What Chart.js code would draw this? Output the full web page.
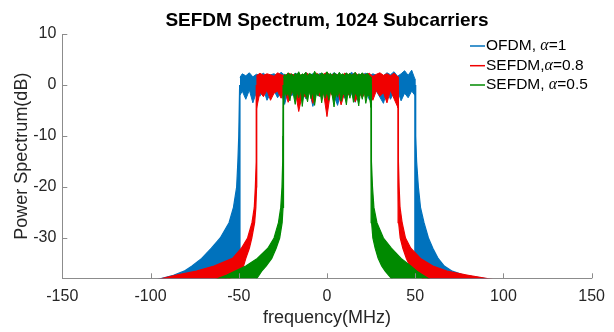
<!DOCTYPE html>
<html>
<head>
<meta charset="utf-8">
<script src="https://cdn.jsdelivr.net/npm/chart.js@4.4.1/dist/chart.umd.min.js"></script>
<style>
  html, body { margin: 0; padding: 0; background: #fff; }
  #wrap { width: 614px; height: 332px; }
</style>
</head>
<body>
<div id="wrap"><canvas id="spec" width="614" height="332"></canvas></div>
<script>
// axis ticks
const xTicks = [-150, -100, -50, 0, 50, 100, 150];
const yTicks = [10, 0, -10, -20, -30];
const xMin = -150, xMax = 150, yMin = -37.9, yMax = 10;

// legend / series
const seriesNames = ['OFDM, ', 'SEFDM,', 'SEFDM, '];
const seriesAlpha = ['1', '0.8', '0.5'];
const seriesColors = ['#0072bd', '#f00000', '#008a00'];

// skirts: dB levels, and the frequency (MHz) of each band edge at that level
const skirtLevels = [0, -10, -15, -20, -24, -27, -30, -32, -34, -35.5, -36.5, -37.3, -38.5];

const ofdmLeftOuter  = [-49.5, -50, -50.5, -51.2, -53, -55.5, -60.5, -65.5, -71, -76.5, -81, -87, -100];
const ofdmLeftInner  = [-49.3, -49.3, -49.3, -49.3, -49.3, -49.3, -49.3, -49.3, -49.3, -49.3, -50, -54, -60];
const ofdmRightInner = [49.8, 49.8, 49.8, 49.8, 49.8, 49.8, 49.8, 49.8, 49.8, 50, 52, 55, 60];
const ofdmRightOuter = [50, 50.3, 50.8, 51.8, 53, 55, 57.5, 60, 63, 66.5, 71, 78, 100];

const sefdm8LeftOuter  = [-40, -40, -40.2, -40.6, -41.2, -42.5, -45, -48.5, -53.5, -64, -74, -86, -100];
const sefdm8LeftInner  = [-39.8, -39.8, -39.8, -39.9, -40.3, -41, -42.6, -44, -46, -47.3, -49, -52, -58];
const sefdm8RightInner = [40.2, 40.2, 40.2, 40.2, 40.3, 40.6, 41.5, 43, 45, 47, 49, 52, 56];
const sefdm8RightOuter = [40.4, 40.4, 40.6, 40.9, 41.4, 42.6, 44.5, 47.5, 53, 60, 68, 80, 100];

const sefdm5LeftOuter  = [-24.9, -25, -25.1, -25.5, -26.2, -27.5, -30, -33.5, -39.5, -46, -52, -57, -66];
const sefdm5LeftInner  = [-24.7, -24.6, -24.6, -24.6, -24.9, -25.4, -26.8, -28.8, -31.3, -34.5, -37, -38.5, -41];
const sefdm5RightInner = [24.9, 24.9, 24.9, 25, 25, 25.3, 26, 27.3, 29, 31, 33, 35, 38];
const sefdm5RightOuter = [25.1, 25.1, 25.3, 25.8, 26.6, 28.3, 32, 36.5, 42, 47.5, 51, 54.5, 60];

// in-band ripple: frequency, upper and lower excursion (dB)
const ofdmBandFreq = [-49.3, -48, -46, -44, -42, -40, -38, -36, -34, -32, -30, -28, -26, -24, -22, -20, -18, -16, -14, -12, -10, -8, -6, -4, -2, 0,
  2, 4, 6, 8, 10, 12, 14, 16, 18, 20, 22, 24, 26, 28, 30, 32, 34, 36, 38, 40, 42, 44, 46, 48, 49.8];
const ofdmBandTop = [1.5, 2.2, 1.8, 2.4, 1.6, 2.1, 1.9, 2.3, 1.7, 2.0, 2.2, 1.8, 2.5, 1.9, 2.1, 1.7, 2.3, 2.0, 1.8, 2.4, 1.9, 2.2, 1.6, 2.3, 2.0, 2.1,
  1.8, 2.4, 2.0, 1.7, 2.2, 1.9, 2.5, 1.8, 2.1, 2.0, 2.3, 1.7, 2.2, 1.9, 2.1, 1.8, 2.4, 2.0, 2.6, 1.7, 2.2, 2.8, 1.9, 2.9, 1.2];
const ofdmBandBot = [-2.0, -1.2, -2.8, -1.0, -3.5, -1.4, -2.2, -0.8, -3.0, -1.6, -1.1, -2.5, -1.3, -3.8, -1.0, -2.1, -1.5, -3.2, -1.2, -2.7, -1.0, -4.2, -1.6, -2.3, -1.1, -3.0,
  -1.4, -2.0, -4.0, -1.2, -2.6, -1.0, -1.8, -3.4, -1.3, -2.2, -1.0, -2.9, -1.5, -1.2, -2.4, -3.6, -1.1, -2.8, -1.4, -1.0, -3.1, -1.6, -2.5, -1.2, -2.0];

const sefdm8BandFreq = [-40, -38, -36, -34, -32, -30, -28, -26, -24, -22, -20, -18, -16, -14, -12, -10, -8, -6, -4, -2, 0,
  2, 4, 6, 8, 10, 12, 14, 16, 18, 20, 22, 24, 26, 28, 30, 32, 34, 36, 38, 40.3];
const sefdm8BandTop = [1.8, 2.3, 1.9, 2.2, 2.0, 1.7, 2.4, 2.0, 1.8, 2.3, 2.1, 1.9, 2.2, 1.7, 2.4, 2.0, 1.8, 2.3, 1.9, 2.1, 2.5,
  1.8, 2.2, 2.0, 1.7, 2.3, 2.1, 1.9, 2.4, 1.8, 2.2, 2.0, 2.3, 1.7, 2.1, 2.4, 1.9, 2.2, 1.8, 2.3, 1.6];
const sefdm8BandBot = [-4.8, -1.4, -2.3, -1.0, -3.0, -1.6, -1.2, -2.6, -1.0, -3.4, -1.5, -1.1, -5.2, -1.8, -2.4, -1.2, -3.6, -1.0, -2.2, -1.4, -6.2,
  -1.3, -2.8, -1.1, -3.9, -1.5, -2.0, -1.0, -3.3, -1.4, -2.5, -1.2, -1.8, -3.0, -1.1, -2.2, -1.5, -3.5, -1.0, -2.7, -4.5];

const sefdm5BandFreq = [-24.7, -24, -23, -22, -21, -20, -19, -18, -17, -16, -15, -14, -13, -12, -11, -10, -9, -8, -7, -6, -5, -4, -3, -2, -1, 0,
  1, 2, 3, 4, 5, 6, 7, 8, 9, 10, 11, 12, 13, 14, 15, 16, 17, 18, 19, 20, 21, 22, 23, 24, 25];
const sefdm5BandTop = [1.4, 2.1, 1.8, 2.4, 1.9, 2.2, 1.6, 2.3, 2.0, 2.6, 1.8, 2.2, 2.0, 2.5, 1.7, 2.3, 2.1, 1.9, 2.7, 2.0, 2.2, 1.8, 2.4, 2.1, 1.9, 2.6,
  2.0, 2.3, 1.7, 2.4, 2.1, 1.9, 2.5, 2.0, 2.2, 1.8, 2.4, 2.0, 2.3, 1.9, 2.1, 2.5, 1.8, 2.2, 2.0, 2.4, 1.9, 2.1, 2.3, 1.8, 1.5];
const sefdm5BandBot = [-4.5, -1.0, -2.2, -1.4, -3.1, -0.8, -1.9, -3.8, -1.2, -2.5, -1.0, -4.2, -1.5, -2.0, -3.3, -1.1, -2.7, -1.3, -4.0, -1.6, -2.2, -1.0, -3.5, -1.4, -2.6, -1.2,
  -3.0, -1.1, -2.1, -4.3, -1.5, -2.4, -1.0, -3.2, -1.7, -2.0, -3.9, -1.2, -2.6, -1.0, -3.4, -1.5, -2.2, -4.1, -1.3, -2.8, -1.0, -3.6, -1.9, -2.3, -4.4];

const FONT = "'Liberation Sans', Arial, sans-serif";
const AXIS_GREY = '#8c8c8c';

// outline of a skirt: outer edge top->bottom, then inner edge bottom->top
function skirtShape(outer, inner) {
  const pts = outer.map((f, i) => ({ x: f, y: skirtLevels[i] }));
  for (let i = inner.length - 1; i >= 0; i--) pts.push({ x: inner[i], y: skirtLevels[i] });
  return pts;
}

// outline of the in-band ripple: top left->right, bottom right->left
function bandShape(freq, top, bot) {
  const pts = freq.map((f, i) => ({ x: f, y: top[i] }));
  for (let i = freq.length - 1; i >= 0; i--) pts.push({ x: freq[i], y: bot[i] });
  return pts;
}

function shapeSet(points, color, width) {
  return {
    data: points,
    showLine: true,
    fill: 'shape',
    backgroundColor: color,
    borderColor: color,
    borderWidth: width,
    pointRadius: 0,
    tension: 0,
    clip: 0
  };
}

const series = [
  { color: seriesColors[2], band: [sefdm5BandFreq, sefdm5BandTop, sefdm5BandBot],
    skirts: [[sefdm5LeftOuter, sefdm5LeftInner], [sefdm5RightOuter, sefdm5RightInner]] },
  { color: seriesColors[1], band: [sefdm8BandFreq, sefdm8BandTop, sefdm8BandBot],
    skirts: [[sefdm8LeftOuter, sefdm8LeftInner], [sefdm8RightOuter, sefdm8RightInner]] },
  { color: seriesColors[0], band: [ofdmBandFreq, ofdmBandTop, ofdmBandBot],
    skirts: [[ofdmLeftOuter, ofdmLeftInner], [ofdmRightOuter, ofdmRightInner]] }
];

// first dataset is drawn on top, so green goes first
const datasets = [];
series.forEach(s => {
  datasets.push(shapeSet(bandShape(s.band[0], s.band[1], s.band[2]), s.color, 1));
  s.skirts.forEach(sk => datasets.push(shapeSet(skirtShape(sk[0], sk[1]), s.color, 1.2)));
});

const decorPlugin = {
  id: 'decor',
  afterDraw(chart) {
    const ctx = chart.ctx;
    const area = chart.chartArea;
    const xs = chart.scales.x, ys = chart.scales.y;
    ctx.save();

    // inward tick marks
    ctx.strokeStyle = AXIS_GREY;
    ctx.lineWidth = 1;
    ctx.beginPath();
    xTicks.forEach(v => {
      const px = Math.round(xs.getPixelForValue(v)) + 0.5;
      ctx.moveTo(px, area.bottom);
      ctx.lineTo(px, area.bottom - 5);
    });
    yTicks.forEach(v => {
      const py = Math.round(ys.getPixelForValue(v)) + 0.5;
      ctx.moveTo(area.left, py);
      ctx.lineTo(area.left + 5, py);
    });
    ctx.stroke();

    // title
    ctx.fillStyle = '#000';
    ctx.font = 'bold 19px ' + FONT;
    ctx.textAlign = 'center';
    ctx.textBaseline = 'alphabetic';
    ctx.fillText('SEFDM Spectrum, 1024 Subcarriers', (area.left + area.right) / 2, 26);

    // legend
    const lx = 470;
    const rowY = [46, 65.7, 85];
    ctx.textAlign = 'left';
    ctx.textBaseline = 'middle';
    seriesNames.forEach((name, i) => {
      ctx.strokeStyle = seriesColors[i];
      ctx.lineWidth = 1.5;
      ctx.beginPath();
      ctx.moveTo(lx, rowY[i]);
      ctx.lineTo(lx + 15, rowY[i]);
      ctx.stroke();
      let x = lx + 16;
      ctx.fillStyle = '#000';
      ctx.font = '15.5px ' + FONT;
      ctx.fillText(name, x, rowY[i]);
      x += ctx.measureText(name).width;
      ctx.font = 'italic 16px "Liberation Serif", serif';
      ctx.fillText('\u03b1', x, rowY[i]);
      x += ctx.measureText('\u03b1').width;
      ctx.font = '15.5px ' + FONT;
      ctx.fillText('=' + seriesAlpha[i], x, rowY[i]);
    });
    ctx.restore();
  }
};

new Chart(document.getElementById('spec'), {
  type: 'scatter',
  data: { datasets: datasets },
  options: {
    responsive: false,
    devicePixelRatio: 1,
    animation: false,
    events: [],
    layout: { padding: { top: 34, right: 13.8, left: 0, bottom: 0 } },
    plugins: { legend: { display: false }, tooltip: { enabled: false }, title: { display: false } },
    scales: {
      x: {
        type: 'linear',
        min: xMin,
        max: xMax,
        afterBuildTicks: scale => { scale.ticks = xTicks.map(v => ({ value: v })); },
        afterFit: scale => { scale.height = 53.7; },
        grid: { display: false, drawTicks: false, tickLength: 0 },
        border: { display: true, color: AXIS_GREY, width: 1 },
        ticks: { color: '#262626', font: { family: FONT, size: 16 }, padding: 9, maxRotation: 0 },
        title: { display: true, text: 'frequency(MHz)', color: '#262626',
                 font: { family: FONT, size: 18 }, padding: { top: 0, bottom: 3 } }
      },
      y: {
        type: 'linear',
        min: yMin,
        max: yMax,
        afterBuildTicks: scale => { scale.ticks = yTicks.map(v => ({ value: v })); },
        afterFit: scale => { scale.width = 62.3; },
        grid: { display: false, drawTicks: false, tickLength: 0 },
        border: { display: true, color: AXIS_GREY, width: 1 },
        ticks: { color: '#262626', font: { family: FONT, size: 16 }, padding: 6 },
        title: { display: true, text: 'Power Spectrum(dB)', color: '#262626',
                 font: { family: FONT, size: 18 }, padding: { top: 11, bottom: 0 } }
      }
    }
  },
  plugins: [decorPlugin]
});
</script>
</body>
</html>
